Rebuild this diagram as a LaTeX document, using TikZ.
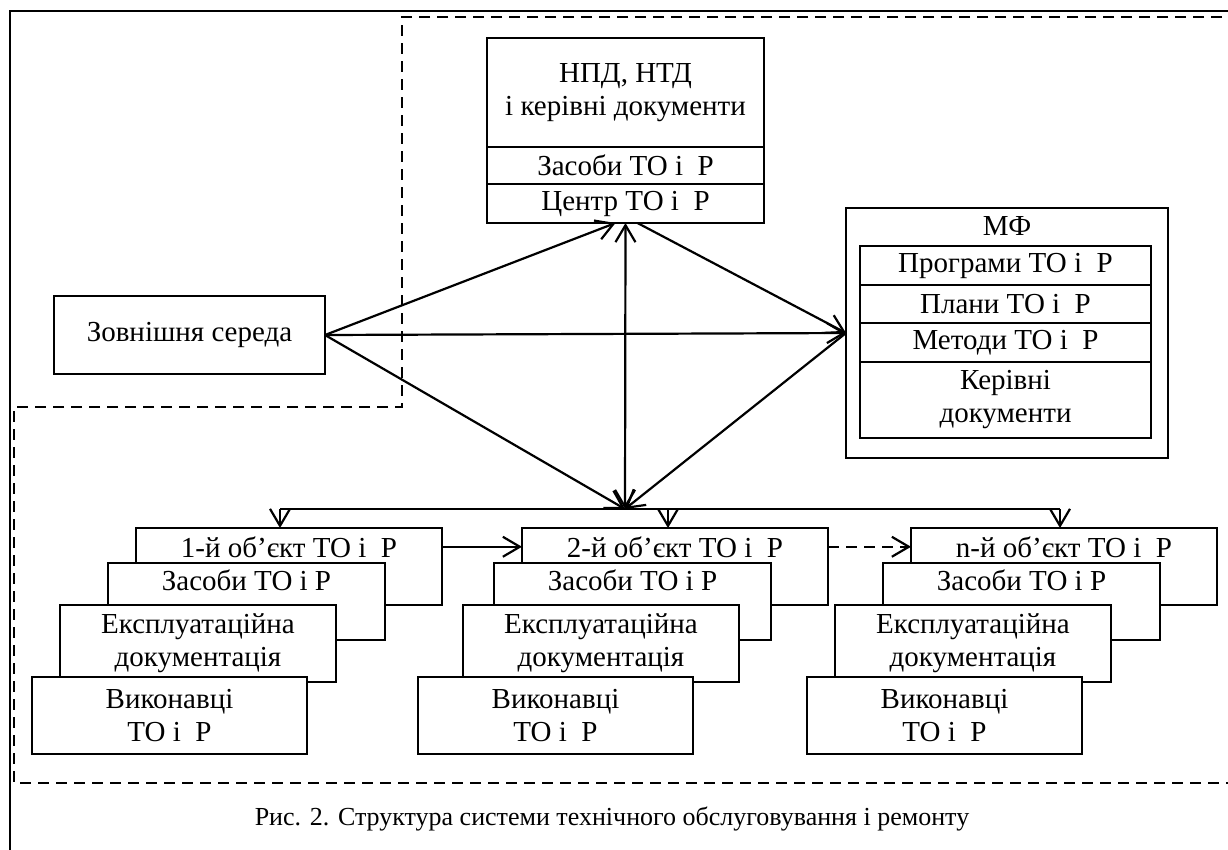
\documentclass[tikz,border=0pt]{standalone}
\usepackage{fontspec}
\setmainfont{Liberation Serif}
\usetikzlibrary{arrows.meta,positioning,calc}
\newcommand{\mainsz}{\fontsize{29}{33}\selectfont}
\newcommand{\capsz}{\fontsize{26}{30}\selectfont}
\newcommand{\toir}{ТО і\ \ Р}
\tikzset{
  box/.style={draw,line width=2.2pt,fill=white,inner sep=0pt,outer sep=0pt,align=center,font=\mainsz,anchor=north west},
  obox/.style={box,minimum height=77pt},
  otxt/.style={font=\mainsz,anchor=base,inner sep=0pt},
  arr/.style={-{Straight Barb[length=17pt,width=20pt]},line width=2.2pt},
  arrboth/.style={{Straight Barb[length=17pt,width=20pt]}-{Straight Barb[length=17pt,width=20pt]},line width=2.2pt},
  zone/.style={line width=2.2pt,dash pattern=on 11pt off 7pt},
}
% one stack of boxes for an object: #1 = left x, #2 = name, #3 = title, #4 = shift of the third box
\newcommand{\objstack}[4]{%
  \node[obox,minimum width=306pt] (#2) at (#1,528) {};
  \node[otxt] (#2t) at ($(#2.north)+(0,29)$) {#3};
  \node[obox,minimum width=277pt] (#2z) at (#1-28,563) {};
  \node[otxt] (#2zt) at ($(#2z.north)+(0,27)$) {Засоби ТО і Р};
  \node[obox,minimum width=276pt] (#2e) at (#1-#4,605) {Експлуатаційна\\документація};
  \node[obox,minimum width=275pt] (#2v) at (#1-104,677) {Виконавці\\\toir};
}
\begin{document}
\begin{tikzpicture}[x=1pt,y=-1pt]
  \useasboundingbox (0,0) rectangle (1228,849);
  \clip (0,0) rectangle (1228,849);
  % frame and dashed zones
  \draw[line width=2.2pt] (1240,11) -- (10,11) -- (10,860);
  \draw[zone] (1240,17) -- (402,17) -- (402,407) -- (14,407) -- (14,783) -- (1240,783);
  % external environment
  \node[box,minimum width=271pt,minimum height=78pt] (zs) at (54,296) {Зовнішня середа};
  % documents and centre
  \node[box,minimum width=277pt,minimum height=109pt] (ntd) at (487,38) {НПД, НТД\\і керівні документи};
  \node[box,minimum width=277pt,minimum height=37pt] (zas) at (ntd.south west) {Засоби \toir};
  \node[box,minimum width=277pt,minimum height=39pt] (cntr) at (zas.south west) {Центр \toir};
  % MF block
  \node[box,minimum width=322pt,minimum height=250pt] (mf) at (846,208) {};
  \node[otxt] (mft) at (1007,235) {МФ};
  \node[box,minimum width=291pt,minimum height=39pt] (prg) at (860,246) {Програми \toir};
  \node[box,minimum width=291pt,minimum height=38pt] (pln) at (prg.south west) {Плани \toir};
  \node[box,minimum width=291pt,minimum height=39pt] (mtd) at (pln.south west) {Методи \toir};
  \node[box,minimum width=291pt,minimum height=76pt] (krv) at (mtd.south west) {Керівні\\документи};
  % objects
  \objstack{136}{o1}{1-й об’єкт \toir}{76}
  \objstack{522}{o2}{2-й об’єкт \toir}{59}
  \objstack{911}{on}{n-й об’єкт \toir}{76}
  % connectors
  \coordinate (jn) at (625,509);
  \coordinate (b1) at (280,509);
  \coordinate (b2) at (668,509);
  \coordinate (b3) at (1060,509);
  \draw[line width=2.2pt] (b1) -- (b3);
  \draw[arr] (b1) -- (b1 |- o1.north);
  \draw[arr] (b2) -- (b2 |- o2.north);
  \draw[arr] (b3) -- (b3 |- on.north);
  \draw[arr] (zs.east) -- ([xshift=-10pt]cntr.south);
  \draw[arr] (zs.east) -- (mf.west);
  \draw[arr] (zs.east) -- (jn);
  \draw[arrboth] (cntr.south) -- (jn);
  \draw[arr] ([xshift=12pt]cntr.south) -- (mf.west);
  \draw[arr] (mf.west) -- (jn);
  \draw[arr] (o1t -| o1.east) -- (o1t -| o2.west);
  \draw[arr,zone] (o2t -| o2.east) -- (o2t -| on.west);
  % caption
  \node[font=\capsz,anchor=base] (cap) at (612,825) {Рис. 2. Структура системи технічного обслуговування і ремонту};
\end{tikzpicture}
\end{document}
